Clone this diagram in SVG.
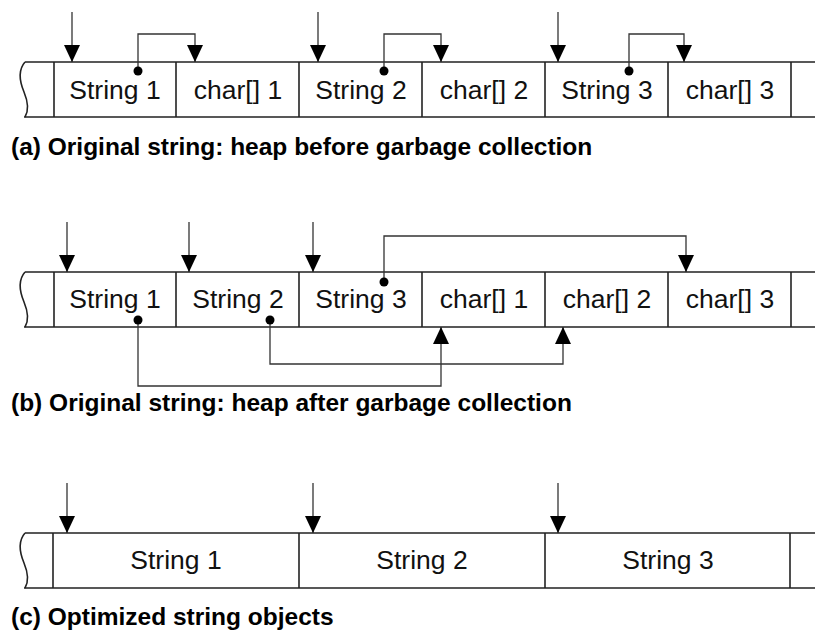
<svg xmlns="http://www.w3.org/2000/svg" width="815" height="633" viewBox="0 0 815 633">
  <defs>
    <!-- filled triangular head, drawn along +x so orient="auto" follows the wire -->
    <marker id="head" viewBox="0 0 17 16" refX="17" refY="8" markerWidth="17" markerHeight="16" markerUnits="userSpaceOnUse" orient="auto">
      <path d="M0,0 L17,8 L0,16 Z" fill="#000"/>
    </marker>
    <style>
      .edge { fill: none; stroke: #222; stroke-width: 1.6; }
      .cell { fill: none; stroke: #222; stroke-width: 1.6; }
      .wire { fill: none; stroke: #333; stroke-width: 1.3; }
      .lbl { font-family: "Liberation Sans", Arial, sans-serif; font-size: 26.5px; fill: #111; text-anchor: middle; }
      .cap { font-family: "Liberation Sans", Arial, sans-serif; font-size: 24.5px; font-weight: bold; fill: #000; }
      .dot { fill: #000; }
    </style>
  </defs>

  <!-- (a) heap before garbage collection -->
  <g id="heap-a">
    <path class="edge" d="M25,62 H815 M24,117 H815"/>
    <path class="edge" d="M25,62 C18,70 19,80 24,92 C29,104 28,112 25,117"/>
    <g id="a-string1"><line class="cell" x1="54" y1="62" x2="54" y2="117"/><text class="lbl" x="115" y="99">String 1</text></g>
    <g id="a-char1"><line class="cell" x1="176" y1="62" x2="176" y2="117"/><text class="lbl" x="238" y="99">char[] 1</text></g>
    <g id="a-string2"><line class="cell" x1="299" y1="62" x2="299" y2="117"/><text class="lbl" x="361" y="99">String 2</text></g>
    <g id="a-char2"><line class="cell" x1="422" y1="62" x2="422" y2="117"/><text class="lbl" x="484" y="99">char[] 2</text></g>
    <g id="a-string3"><line class="cell" x1="545" y1="62" x2="545" y2="117"/><text class="lbl" x="607" y="99">String 3</text></g>
    <g id="a-char3"><line class="cell" x1="668" y1="62" x2="668" y2="117"/><text class="lbl" x="730" y="99">char[] 3</text></g>
    <line class="cell" x1="791" y1="62" x2="791" y2="117"/>
  </g>
  <g id="connectors-a">
    <line class="wire" x1="72" y1="12" x2="72" y2="62" marker-end="url(#head)"/>
    <line class="wire" x1="318" y1="12" x2="318" y2="62" marker-end="url(#head)"/>
    <line class="wire" x1="558" y1="12" x2="558" y2="62" marker-end="url(#head)"/>
    <polyline class="wire" points="138,71 138,34 195,34 195,62" marker-end="url(#head)"/>
    <polyline class="wire" points="384,71 384,34 441,34 441,62" marker-end="url(#head)"/>
    <polyline class="wire" points="629,71 629,34 684,34 684,62" marker-end="url(#head)"/>
    <circle class="dot" cx="138" cy="71" r="4.5"/>
    <circle class="dot" cx="384" cy="71" r="4.5"/>
    <circle class="dot" cx="629" cy="71" r="4.5"/>
  </g>
  <text class="cap" x="11" y="155">(a) Original string: heap before garbage collection</text>

  <!-- (b) heap after garbage collection -->
  <g id="heap-b">
    <path class="edge" d="M25,272 H815 M24,327 H815"/>
    <path class="edge" d="M25,272 C18,280 19,290 24,302 C29,314 28,322 25,327"/>
    <g id="b-string1"><line class="cell" x1="54" y1="272" x2="54" y2="327"/><text class="lbl" x="115" y="308">String 1</text></g>
    <g id="b-string2"><line class="cell" x1="176" y1="272" x2="176" y2="327"/><text class="lbl" x="238" y="308">String 2</text></g>
    <g id="b-string3"><line class="cell" x1="299" y1="272" x2="299" y2="327"/><text class="lbl" x="361" y="308">String 3</text></g>
    <g id="b-char1"><line class="cell" x1="422" y1="272" x2="422" y2="327"/><text class="lbl" x="484" y="308">char[] 1</text></g>
    <g id="b-char2"><line class="cell" x1="545" y1="272" x2="545" y2="327"/><text class="lbl" x="607" y="308">char[] 2</text></g>
    <g id="b-char3"><line class="cell" x1="668" y1="272" x2="668" y2="327"/><text class="lbl" x="730" y="308">char[] 3</text></g>
    <line class="cell" x1="791" y1="272" x2="791" y2="327"/>
  </g>
  <g id="connectors-b">
    <line class="wire" x1="67" y1="222" x2="67" y2="272" marker-end="url(#head)"/>
    <line class="wire" x1="189" y1="222" x2="189" y2="272" marker-end="url(#head)"/>
    <line class="wire" x1="313" y1="222" x2="313" y2="272" marker-end="url(#head)"/>
    <polyline class="wire" points="138,320 138,386 441,386 441,327" marker-end="url(#head)"/>
    <polyline class="wire" points="270,320 270,364 563,364 563,327" marker-end="url(#head)"/>
    <polyline class="wire" points="384,282 384,236 686,236 686,272" marker-end="url(#head)"/>
    <circle class="dot" cx="138" cy="320" r="4.5"/>
    <circle class="dot" cx="270" cy="320" r="4.5"/>
    <circle class="dot" cx="384" cy="282" r="4.5"/>
  </g>
  <text class="cap" x="11" y="411">(b) Original string: heap after garbage collection</text>

  <!-- (c) optimized string objects -->
  <g id="heap-c">
    <path class="edge" d="M25,533 H815 M24,588 H815"/>
    <path class="edge" d="M25,533 C18,541 19,551 24,563 C29,575 28,583 25,588"/>
    <g id="c-string1"><line class="cell" x1="53" y1="533" x2="53" y2="588"/><text class="lbl" x="176" y="569">String 1</text></g>
    <g id="c-string2"><line class="cell" x1="299" y1="533" x2="299" y2="588"/><text class="lbl" x="422" y="569">String 2</text></g>
    <g id="c-string3"><line class="cell" x1="545" y1="533" x2="545" y2="588"/><text class="lbl" x="668" y="569">String 3</text></g>
    <line class="cell" x1="790" y1="533" x2="790" y2="588"/>
  </g>
  <g id="connectors-c">
    <line class="wire" x1="67" y1="483" x2="67" y2="533" marker-end="url(#head)"/>
    <line class="wire" x1="313" y1="483" x2="313" y2="533" marker-end="url(#head)"/>
    <line class="wire" x1="558" y1="483" x2="558" y2="533" marker-end="url(#head)"/>
  </g>
  <text class="cap" x="11" y="625">(c) Optimized string objects</text>
</svg>
